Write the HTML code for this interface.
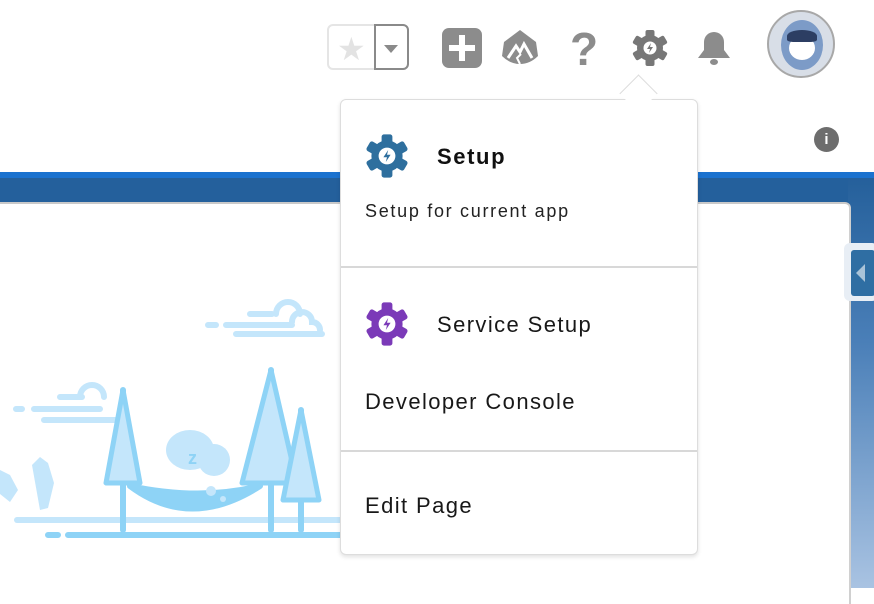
<!DOCTYPE html>
<html><head><meta charset="utf-8"><style>
body{margin:0;width:874px;height:588px;position:relative;overflow:hidden;background:#fff;font-family:"Liberation Sans",sans-serif}
.a{position:absolute}
</style></head><body>
<!-- blue band -->
<div class="a" style="left:0;top:172px;width:874px;height:6px;background:#1b72cf"></div>
<div class="a" style="left:0;top:178px;width:874px;height:25px;background:#24609c"></div>
<div class="a" style="left:848px;top:178px;width:26px;height:410px;background:linear-gradient(#25609b,#4a7fb8 40%,#a9c3e2)"></div>
<div class="a" style="left:0;top:202px;width:849px;height:400px;background:#fff;border-top:2px solid #c9c9c9;border-right:2px solid #d0d0d0;border-radius:0 6px 0 0"></div>
<div class="a" style="left:844px;top:243px;width:34px;height:58px;background:#e8eef5;border-radius:6px"></div>
<div class="a" style="left:851px;top:250px;width:24px;height:46px;background:#2f6ea3;border-radius:3px"></div>
<div class="a" style="left:856px;top:264px;width:0;height:0;border-top:9px solid transparent;border-bottom:9px solid transparent;border-right:9px solid #a9c3d8"></div>

<!-- illustration -->
<svg class="a" style="left:0;top:290px" width="340" height="250" viewBox="0 290 340 250">
<g fill="none" stroke="#c4e6fb" stroke-width="6" stroke-linecap="round">
<path d="M208 325h8M226 325h66M236 334h86M250 314h22"/>
<path d="M276 314a12 12 0 0 1 24 0M292 322a10 10 0 0 1 20 0a8 8 0 0 1 8 8"/>
<path d="M16 409h6M34 409h66M44 420h80M60 397h22"/>
<path d="M80 397a12 12 0 0 1 24 0"/>
<path d="M17 520h330"/>
</g>
<g fill="none" stroke="#8ed3f6" stroke-width="6" stroke-linecap="round">
<path d="M48 535h10M68 535h280"/>
<path d="M123 390v140M271 370v160M301 410v120"/>
</g>
<g fill="#c4e6fb" stroke="#8ed3f6" stroke-width="5" stroke-linejoin="round">
<path d="M123 390L106 483h34z"/>
<path d="M271 370L242 483h55z"/>
<path d="M301 410L283 500h36z"/>
</g>
<path d="M130 486q60 45 130 0q-60 15 -130 0z" fill="#8ed3f6" stroke="#8ed3f6" stroke-width="6" stroke-linejoin="round"/>
<ellipse cx="190" cy="450" rx="24" ry="20" fill="#c4e6fb"/><circle cx="214" cy="460" r="16" fill="#c4e6fb"/>
<text x="188" y="464" font-size="18" fill="#8ed3f6" font-weight="bold">z</text>
<circle cx="211" cy="491" r="5" fill="#c4e6fb"/><circle cx="223" cy="499" r="3" fill="#c4e6fb"/>
<path d="M32 465l8-8 8 6 6 20-6 25-8 2z" fill="#c4e6fb"/>
<path d="M0 470l10 5 8 15-8 12-10-8z" fill="#c4e6fb"/>
</svg>

<!-- header icons -->
<div class="a" style="left:327px;top:24px;width:82px;height:46px;border:2px solid #e5e5e5;border-radius:6px;box-sizing:border-box"></div>
<div class="a" style="left:374px;top:24px;width:35px;height:46px;border:2px solid #8a8a8a;border-radius:0 6px 6px 0;box-sizing:border-box"></div>
<div class="a" style="left:337px;top:30px;font-size:32px;color:#e3e3e3">★</div>
<div class="a" style="left:384px;top:45px;width:0;height:0;border-left:7px solid transparent;border-right:7px solid transparent;border-top:8px solid #8a8a8a"></div>
<div class="a" style="left:442px;top:28px;width:40px;height:40px;background:#8c8c8c;border-radius:7px"></div>
<div class="a" style="left:459px;top:35px;width:6px;height:26px;background:#fff"></div>
<div class="a" style="left:449px;top:45px;width:26px;height:6px;background:#fff"></div>
<svg class="a" style="left:500px;top:28px" width="40" height="40"><path d="M20 2L36 14 38 28Q30 36 20 36Q10 36 2 28L4 14z" fill="#8c8c8c"/><path d="M8 30L16 18 20 24 24 16 32 30" fill="none" stroke="#fff" stroke-width="3"/><path d="M20 36l-3-6 4-4" fill="none" stroke="#fff" stroke-width="2"/></svg>
<div class="a" style="left:570px;top:22px;font-size:46px;font-weight:bold;color:#8c8c8c">?</div>
<svg class="a" style="left:630px;top:28px" width="40" height="40" viewBox="-20 -20 40 40"><g fill="#777"><circle r="13"/><g id="t"><rect x="-4.5" y="-18" width="9" height="10" rx="2"/></g><use href="#t" transform="rotate(60)"/><use href="#t" transform="rotate(120)"/><use href="#t" transform="rotate(180)"/><use href="#t" transform="rotate(240)"/><use href="#t" transform="rotate(300)"/></g><circle r="6.5" fill="#fff"/><path d="M1-5l-4 6h3l-1 4 4-6h-3z" fill="#777"/></svg>
<svg class="a" style="left:694px;top:28px" width="40" height="40"><path d="M20 4a10 10 0 0 0-10 10v8l-6 8h32l-6-8v-8a10 10 0 0 0-10-10z" fill="#8c8c8c"/><ellipse cx="20" cy="34" rx="4" ry="3" fill="#8c8c8c"/></svg>
<div class="a" style="left:767px;top:10px;width:68px;height:68px;border-radius:50%;background:#d8dee7;border:2px solid #a8a8a8;box-sizing:border-box;overflow:hidden">
<div class="a" style="left:12px;top:8px;width:42px;height:50px;background:#7c9bc7;border-radius:50%"></div>
<div class="a" style="left:20px;top:24px;width:26px;height:24px;background:#fff;border-radius:50%"></div>
<div class="a" style="left:18px;top:18px;width:30px;height:12px;background:#2c3e63;border-radius:50% 50% 20% 20%"></div>
</div>
<div class="a" style="left:814px;top:127px;width:25px;height:25px;border-radius:50%;background:#6d6d6d;color:#fff;font-size:15px;font-weight:bold;text-align:center;line-height:25px">i</div>

<!-- dropdown -->
<div class="a" style="left:340px;top:99px;width:358px;height:456px;background:#fff;border:1px solid #ddd;border-radius:6px;box-sizing:border-box;box-shadow:0 2px 4px rgba(0,0,0,.12)"></div>
<div class="a" style="left:625px;top:80px;width:26px;height:26px;background:#fff;border-left:1px solid #ddd;border-top:1px solid #ddd;transform:rotate(45deg)"></div>
<div class="a" style="left:341px;top:266px;width:356px;height:2px;background:#d8d8d8"></div>
<div class="a" style="left:341px;top:450px;width:356px;height:2px;background:#d8d8d8"></div>

<svg class="a" style="left:363px;top:132px" width="48" height="48" viewBox="-20 -20 40 40"><g fill="#2e6f9e"><circle r="13"/><g id="t2"><rect x="-4.5" y="-18" width="9" height="10" rx="2"/></g><use href="#t2" transform="rotate(60)"/><use href="#t2" transform="rotate(120)"/><use href="#t2" transform="rotate(180)"/><use href="#t2" transform="rotate(240)"/><use href="#t2" transform="rotate(300)"/></g><circle r="7" fill="#fff"/><path d="M1-5l-4 6h3l-1 4 4-6h-3z" fill="#2e6f9e"/></svg>
<div class="a" style="left:437px;top:144px;font-size:22px;font-weight:bold;color:#111;letter-spacing:1.6px">Setup</div>
<div class="a" style="left:365px;top:201px;font-size:18px;color:#222;letter-spacing:1.7px">Setup for current app</div>

<svg class="a" style="left:363px;top:300px" width="48" height="48" viewBox="-20 -20 40 40"><g fill="#7b3ab8"><circle r="13"/><g id="t3"><rect x="-4.5" y="-18" width="9" height="10" rx="2"/></g><use href="#t3" transform="rotate(60)"/><use href="#t3" transform="rotate(120)"/><use href="#t3" transform="rotate(180)"/><use href="#t3" transform="rotate(240)"/><use href="#t3" transform="rotate(300)"/></g><circle r="7" fill="#fff"/><path d="M1-5l-4 6h3l-1 4 4-6h-3z" fill="#7b3ab8"/></svg>
<div class="a" style="left:437px;top:312px;font-size:22px;color:#181818;letter-spacing:1.4px">Service Setup</div>
<div class="a" style="left:365px;top:389px;font-size:22px;color:#181818;letter-spacing:1.4px">Developer Console</div>
<div class="a" style="left:365px;top:493px;font-size:22px;color:#181818;letter-spacing:1.4px">Edit Page</div>
</body></html>
